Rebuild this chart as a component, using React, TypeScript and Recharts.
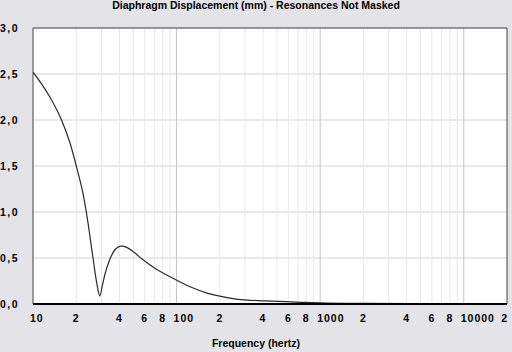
import React from "react";
import { LineChart, Line, XAxis, YAxis, CartesianGrid, ReferenceLine } from "recharts";

const freqs = [10, 11.5, 13.1, 15.8, 18.1, 20.1, 22.3, 23.8, 24.9, 26.5, 28, 29.2, 30.4, 31.6, 34.2, 37.1, 41.3, 45, 49.7, 58.4, 70.2, 84, 99.5, 123, 165, 200, 260, 420, 753, 1000, 2000, 5000, 20000];
const displacement = [2.52, 2.39, 2.25, 2.0, 1.75, 1.49, 1.2, 0.95, 0.74, 0.44, 0.2, 0.087, 0.2, 0.315, 0.48, 0.587, 0.63, 0.615, 0.57, 0.48, 0.39, 0.32, 0.26, 0.19, 0.116, 0.085, 0.054, 0.033, 0.018, 0.012, 0.006, 0.003, 0.001];

const xTicks = [10, 20, 40, 60, 80, 100, 200, 400, 600, 800, 1000, 2000, 4000, 6000, 8000, 10000, 20000];
const xTickLabels = ["10", "2", "4", "6", "8", "100", "2", "4", "6", "8", "1000", "2", "4", "6", "8", "10000", "2"];
const yTicks = [0, 0.5, 1, 1.5, 2, 2.5, 3];
const minorGrid = [20, 30, 40, 50, 60, 70, 80, 90, 200, 300, 400, 500, 600, 700, 800, 900, 2000, 3000, 4000, 5000, 6000, 7000, 8000, 9000];
const majorGrid = [100, 1000, 10000];

const title = "Diaphragm Displacement (mm) - Resonances Not Masked";
const xLabel = "Frequency (hertz)";

const data = freqs.map((f, i) => ({ f, v: displacement[i] }));

const FONT = "'Liberation Sans', Arial, sans-serif";

const XTick = (props: any) => {
  const { x, y, payload, index } = props;
  const label = xTickLabels[xTicks.indexOf(payload.value)] ?? "";
  const isLast = index === xTicks.length - 1 || payload.value === 20000;
  const isDecade = label.length > 1;
  const anchor = isLast ? "end" : isDecade ? "start" : "middle";
  const dx = isLast ? 1 : isDecade ? -3 : 0;
  return (
    <text x={x + dx} y={y + 10} textAnchor={anchor} fontFamily={FONT} fontWeight="bold" fontSize={10.5} letterSpacing={1} fill="#000">
      {label}
    </text>
  );
};

const YTick = (props: any) => {
  const { x, y, payload } = props;
  const label = payload.value.toFixed(1).replace(".", ",");
  return (
    <text x={x - 6} y={y + 4} textAnchor="end" fontFamily={FONT} fontWeight="bold" fontSize={10.5} letterSpacing={1.5} fill="#000">
      {label}
    </text>
  );
};

export default function App() {
  return (
    <div style={{ position: "fixed", left: 0, top: 0, width: 512, height: 352, background: "#e4e3e8", overflow: "hidden" }}>
      <div style={{ position: "absolute", top: 0, left: 0, width: 512, textAlign: "center", fontFamily: FONT, fontWeight: "bold", fontSize: 10.5, lineHeight: "11px", color: "#000" }}>
        {title}
      </div>
      <LineChart width={512} height={352} data={data} margin={{ top: 28, right: 5, bottom: 0, left: 0 }}>
        <CartesianGrid vertical={false} horizontal={true} stroke="#d2d2d2" fill="#ffffff" strokeDasharray="" />
        {minorGrid.map((g) => (
          <ReferenceLine key={"m" + g} x={g} stroke="#e8e8e8" strokeWidth={1} />
        ))}
        {majorGrid.map((g) => (
          <ReferenceLine key={"M" + g} x={g} stroke="#c4c4c4" strokeWidth={1} />
        ))}
        <ReferenceLine y={3} stroke="#444" strokeWidth={1} />
        <ReferenceLine x={20000} stroke="#444" strokeWidth={1} />
        <XAxis
          dataKey="f"
          type="number"
          scale="log"
          domain={[10, 20000]}
          allowDataOverflow
          ticks={xTicks}
          interval={0}
          tick={<XTick />}
          tickLine={false}
          axisLine={{ stroke: "#000", strokeWidth: 2 }}
          height={48}
        />
        <YAxis
          type="number"
          domain={[0, 3]}
          ticks={yTicks}
          interval={0}
          allowDataOverflow
          tick={<YTick />}
          tickLine={false}
          axisLine={{ stroke: "#444", strokeWidth: 1 }}
          width={33}
        />
        <Line type="monotone" dataKey="v" stroke="#2a2a2a" strokeWidth={1.2} dot={false} isAnimationActive={false} />
      </LineChart>
      <div style={{ position: "absolute", top: 337, left: 0, width: 512, textAlign: "center", fontFamily: FONT, fontWeight: "bold", fontSize: 10.5, color: "#000" }}>
        {xLabel}
      </div>
    </div>
  );
}
